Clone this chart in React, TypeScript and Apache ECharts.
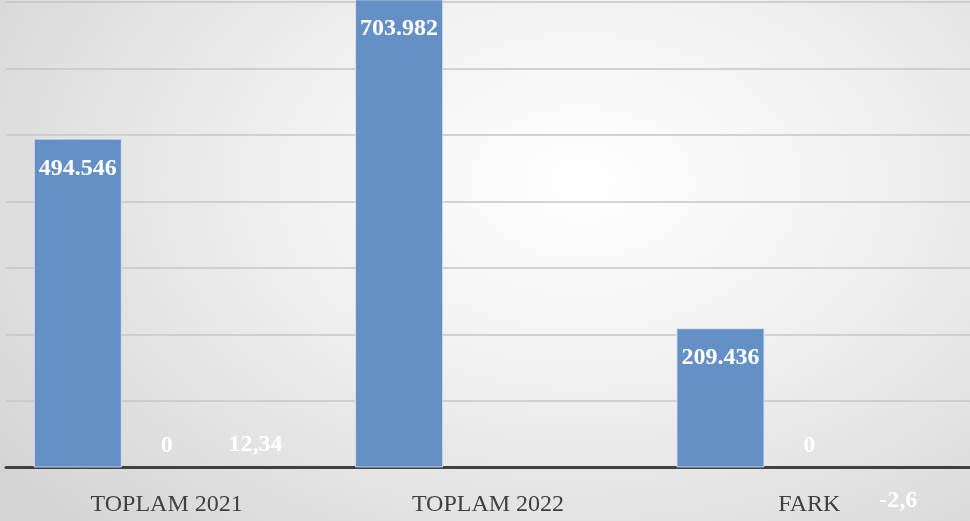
import React, { useEffect, useRef } from "react";
import * as echarts from "echarts";

const categories = ["TOPLAM 2021", "TOPLAM 2022", "FARK"];
const seriesTotal = [494546, 703982, 209436];
const seriesZero: (number | null)[] = [0, null, 0];
const seriesSmall: (number | null)[] = [12.34, null, -2.6];
const yTicks = { min: 0, max: 700000, interval: 100000 };

function fmt(v: number): string {
  if (v === null || v === undefined) return "";
  if (Number.isInteger(v)) {
    const s = Math.abs(v).toString().replace(/\B(?=(\d{3})+(?!\d))/g, ".");
    return (v < 0 ? "-" : "") + s;
  }
  return v.toString().replace(".", ",");
}

const FONT = "Liberation Serif";

export default function App() {
  const ref = useRef<HTMLDivElement>(null);
  useEffect(() => {
    if (!ref.current) return;
    const chart = echarts.init(ref.current, undefined, { renderer: "svg" });
    const labelBase = {
      show: true,
      color: "#ffffff",
      fontFamily: FONT,
      fontWeight: "bold" as const,
      fontSize: 24,
      formatter: (p: any) => fmt(p.value),
    };
    const barStyle = {
      color: "#6590c6",
      borderColor: "rgba(220,230,245,0.8)",
      borderWidth: 1,
    };
    const flatStyle = { color: "#6590c6", borderWidth: 0 };
    chart.setOption({
      animation: false,
      backgroundColor: "transparent",
      grid: { left: 6, right: -4, top: 2, bottom: 53.5, containLabel: false },
      xAxis: {
        type: "category",
        data: categories,
        axisTick: { show: false },
        axisLine: { show: true, lineStyle: { color: "#404040", width: 3 } },
        axisLabel: {
          color: "#404040",
          fontFamily: FONT,
          fontSize: 24,
          margin: 23,
        },
      },
      yAxis: {
        type: "value",
        min: yTicks.min,
        max: yTicks.max,
        interval: yTicks.interval,
        axisLabel: { show: false },
        axisLine: { show: false },
        axisTick: { show: false },
        splitLine: { show: true, lineStyle: { color: "#c6c6c6", width: 1.5 } },
      },
      series: [
        {
          type: "bar",
          data: seriesTotal,
          barWidth: 88,
          barGap: "1%",
          clip: false,
          itemStyle: barStyle,
          label: { ...labelBase, position: "insideTop", distance: 16 },
        },
        {
          type: "bar",
          data: seriesZero,
          barWidth: 88,
          barGap: "1%",
          clip: false,
          itemStyle: flatStyle,
          label: { ...labelBase, position: "top", distance: 12 },
        },
        {
          type: "bar",
          data: seriesSmall.map((v) =>
            v === null
              ? null
              : {
                  value: v,
                  label:
                    v < 0
                      ? { position: "bottom", distance: 19 }
                      : { position: "top", distance: 12 },
                }
          ),
          barWidth: 88,
          barGap: "1%",
          clip: false,
          itemStyle: flatStyle,
          label: { ...labelBase },
        },
      ],
    });
    return () => chart.dispose();
  }, []);
  return (
    <div
      ref={ref}
      style={{
        position: "fixed",
        left: 0,
        top: 0,
        width: 970,
        height: 521,
        background:
          "radial-gradient(ellipse 75% 95% at 60% 35%, #ffffff 0%, #f3f3f3 35%, #d4d4d4 100%)",
      }}
    />
  );
}
